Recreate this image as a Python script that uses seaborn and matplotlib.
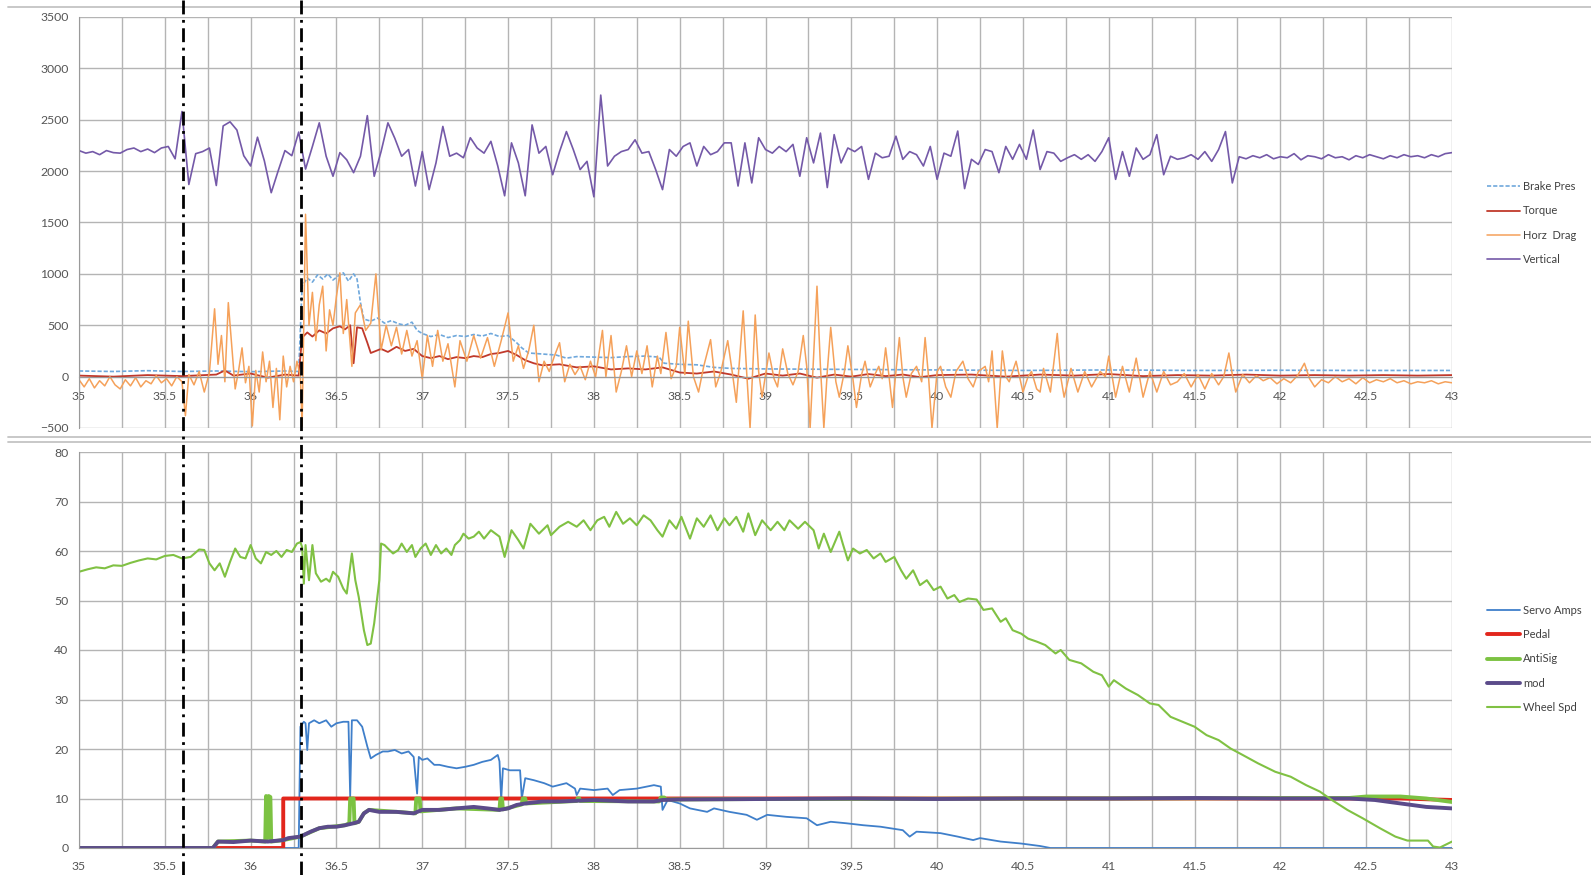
import numpy as np
import matplotlib
matplotlib.use("Agg")
import matplotlib.pyplot as plt
from matplotlib.lines import Line2D
from matplotlib.transforms import blended_transform_factory
from matplotlib.ticker import MultipleLocator, FuncFormatter
import seaborn as sns

# ---------------------------------------------------------------- data
# Upper chart: load channels against time (s)
vertical_load = [
    2200, 2175, 2190, 2160, 2200, 2180, 2175, 2210, 2225, 2190, 2215, 2180, 2225, 2240, 2120, 2580, 1870, 2170, 2190, 2225, 1860, 2440, 2480, 2400, 2150,
    2050, 2330, 2100, 1790, 2000, 2200, 2150, 2380, 2020, 2240, 2470, 2145, 1950, 2180, 2110, 1985, 2145, 2540, 1950, 2190, 2470, 2320, 2145, 2210, 1855,
    2190, 1820, 2080, 2435, 2145, 2175, 2130, 2325, 2225, 2175, 2290, 2050, 1760, 2275, 2080, 1760, 2450, 2175, 2240, 1965, 2190, 2385, 2210, 2015, 2095,
    1750, 2740, 2050, 2145, 2190, 2210, 2305, 2175, 2190, 2015, 1820, 2210, 2145, 2240, 2275, 2050, 2240, 2160, 2190, 2275, 2275, 1855, 2275, 1885, 2325,
    2210, 2175, 2240, 2190, 2260, 1950, 2325, 2080, 2370, 1840, 2355, 2080, 2225, 2190, 2240, 1920, 2175, 2130, 2145, 2340, 2115, 2190, 2160, 2050, 2240,
    1920, 2175, 2145, 2390, 1830, 2115, 2065, 2210, 2190, 1985, 2240, 2115, 2260, 2115, 2400, 2015, 2190, 2175, 2095, 2130, 2160, 2115, 2160, 2095, 2190,
    2325, 1920, 2190, 1950, 2225, 2115, 2160, 2355, 1965, 2145, 2115, 2130, 2160, 2115, 2190, 2095, 2210, 2385, 1885, 2140, 2120, 2150, 2130, 2160, 2120,
    2140, 2130, 2170, 2110, 2150, 2140, 2120, 2160, 2130, 2140, 2110, 2150, 2130, 2160, 2140, 2120, 2150, 2130, 2160, 2140, 2150, 2130, 2160, 2140, 2170,
    2180,
]
vertical_t = np.linspace(35.0, 43.0, len(vertical_load))

brake_t = [35.0, 35.2, 35.4, 35.6, 35.8, 36.0, 36.2, 36.28, 36.30, 36.33, 36.36, 36.39, 36.42, 36.45,
           36.48, 36.51, 36.54, 36.57, 36.60, 36.62, 36.64, 36.66, 36.70, 36.74, 36.78, 36.82, 36.86,
           36.90, 36.94, 36.97, 37.00, 37.05, 37.10, 37.15, 37.20, 37.25, 37.30, 37.35, 37.40, 37.45,
           37.50, 37.55, 37.58, 37.62, 37.70, 37.78, 37.84, 37.90, 38.00, 38.10, 38.20, 38.30, 38.38,
           38.41, 38.50, 38.60, 38.70, 38.80, 39.0, 39.5, 40.0, 40.5, 41.0, 41.5, 42.0, 42.5, 43.0]
brake_pres = [55, 50, 58, 50, 55, 48, 55, 50, 880, 960, 920, 990, 950, 1000,
              940, 980, 1010, 930, 1000, 950, 720, 560, 540, 570, 520, 545, 515,
              500, 530, 450, 420, 390, 410, 380, 400, 390, 410, 395, 420, 390,
              400, 330, 280, 230, 220, 210, 180, 195, 190, 185, 195, 200, 190,
              130, 120, 115, 90, 80, 75, 70, 65, 60, 65, 60, 62, 60, 60]

torque_t = [35.0, 35.2, 35.4, 35.6, 35.8, 35.85, 35.9, 36.0, 36.1, 36.2, 36.28, 36.30, 36.33, 36.36,
            36.40, 36.44, 36.48, 36.52, 36.55, 36.58, 36.60, 36.62, 36.65, 36.68, 36.70, 36.73, 36.76,
            36.80, 36.85, 36.90, 36.95, 37.00, 37.05, 37.10, 37.15, 37.20, 37.25, 37.30, 37.35, 37.40,
            37.45, 37.50, 37.55, 37.60, 37.65, 37.70, 37.80, 37.90, 38.00, 38.10, 38.20, 38.30, 38.40,
            38.50, 38.60, 38.70, 38.80, 38.90, 39.00, 39.1, 39.2, 39.3, 39.4, 39.5, 39.6, 39.7, 39.8,
            39.9, 40.0, 40.2, 40.4, 40.6, 40.8, 41.0, 41.2, 41.4, 41.6, 41.8, 42.0, 42.2, 42.4, 42.6,
            42.8, 43.0]
torque = [10, 0, 15, 5, 20, 60, 10, 30, -10, 20, 10, 380, 430, 390,
          450, 420, 470, 490, 460, 500, 130, 480, 470, 330, 230, 250, 270,
          240, 290, 250, 270, 200, 180, 200, 170, 190, 180, 200, 190, 220,
          230, 250, 210, 160, 130, 110, 120, 90, 100, 70, 80, 70, 90,
          40, 30, 50, 20, -20, 30, 10, 30, -10, 20, 0, 25, 5, 20,
          -5, 15, 20, 0, 20, 10, 25, 5, 15, 10, 20, 10, 15, 10, 15,
          10, 15]

drag_t = [35.00, 35.03, 35.06, 35.09, 35.12, 35.15, 35.18, 35.21, 35.24, 35.27, 35.30, 35.33, 35.36,
          35.39, 35.42, 35.45, 35.48, 35.51, 35.54, 35.57, 35.60, 35.62, 35.64, 35.67, 35.70, 35.73,
          35.76, 35.79, 35.81, 35.83, 35.85, 35.87, 35.89, 35.91, 35.93, 35.95, 35.97, 35.99, 36.01,
          36.03, 36.05, 36.07, 36.09, 36.11, 36.13, 36.15, 36.17, 36.19, 36.21, 36.23, 36.25, 36.27,
          36.29, 36.30, 36.32, 36.34, 36.36, 36.38, 36.40, 36.42, 36.44, 36.46, 36.48, 36.50, 36.52,
          36.54, 36.56, 36.59, 36.61, 36.64, 36.67, 36.70, 36.73, 36.76, 36.79, 36.82, 36.85, 36.88,
          36.91, 36.94, 36.97, 37.00, 37.03, 37.06, 37.09, 37.12, 37.15, 37.19, 37.22, 37.26, 37.30,
          37.34, 37.38, 37.42, 37.46, 37.50, 37.53, 37.56, 37.59, 37.62, 37.65, 37.68, 37.71, 37.74,
          37.77, 37.80, 37.83, 37.86, 37.89, 37.92, 37.95, 37.98, 38.01, 38.05, 38.07, 38.10, 38.13,
          38.16, 38.19, 38.22, 38.25, 38.28, 38.31, 38.34, 38.37, 38.39, 38.42, 38.45, 38.48, 38.50,
          38.53, 38.55, 38.58, 38.61, 38.64, 38.68, 38.71, 38.74, 38.78, 38.81, 38.83, 38.87, 38.89,
          38.91, 38.94, 38.96, 38.98, 39.02, 39.05, 39.07, 39.10, 39.13, 39.16, 39.19, 39.22, 39.24,
          39.26, 39.28, 39.30, 39.32, 39.34, 39.36, 39.38, 39.41, 39.43, 39.46, 39.48, 39.51, 39.53,
          39.56, 39.58, 39.61, 39.64, 39.66, 39.68, 39.70, 39.72, 39.74, 39.76, 39.78, 39.80, 39.82,
          39.85, 39.88, 39.91, 39.93, 39.95, 39.97, 40.00, 40.02, 40.05, 40.08, 40.11, 40.15, 40.18,
          40.21, 40.24, 40.28, 40.30, 40.32, 40.35, 40.38, 40.40, 40.42, 40.46, 40.50, 40.53, 40.55,
          40.58, 40.60, 40.62, 40.66, 40.70, 40.72, 40.74, 40.78, 40.82, 40.86, 40.90, 40.95, 40.98,
          41.00, 41.04, 41.08, 41.12, 41.16, 41.20, 41.24, 41.28, 41.32, 41.36, 41.40, 41.44, 41.48,
          41.52, 41.56, 41.60, 41.64, 41.67, 41.70, 41.72, 41.74, 41.78, 41.82, 41.86, 41.90, 41.94,
          41.98, 42.02, 42.06, 42.10, 42.14, 42.17, 42.20, 42.24, 42.28, 42.32, 42.36, 42.40, 42.44,
          42.48, 42.52, 42.56, 42.60, 42.64, 42.68, 42.72, 42.76, 42.80, 42.84, 42.88, 42.92, 42.96,
          43.00]
horz_drag = [-30, -100, -20, -110, -40, -90, 0, -80, -120, -30, -90, -10, -100,
             -40, -70, 10, -60, -20, -90, 0, -50, -380, 20, -80, 50, -150,
             40, 660, 120, 400, -50, 720, 300, -120, 60, 280, -60, 100, -480,
             60, -150, 240, -50, 150, -300, 80, -420, 200, -100, 100, -50, 150,
             0, -480, 1580, 500, 820, 350, 700, 880, 250, 650, 500, 780, 1010,
             420, 750, 100, 620, 700, 450, 520, 1000, 260, 500, 300, 480, 220,
             450, 200, 350, -20, 400, 100, 450, 150, 320, -100, 350, 150, 400,
             180, 380, 100, 350, 620, 150, 300, 80, 250, 500, -50, 150, 50,
             200, 330, -50, 120, 20, 100, -30, 150, 0, 450, 0, 400, -150,
             50, 300, 0, 250, 30, 300, -100, 200, 30, 430, -20, 100, 480,
             20, 540, 0, -150, 100, 360, -100, 50, 350, 0, -250, 640, 50,
             -500, 600, 50, -200, 230, -20, -100, 270, 30, -80, 50, 400, 100,
             -500, 200, 880, 100, -500, 50, 480, -50, -200, 50, 300, -30, -300,
             20, 150, -100, 30, 100, -20, 280, 0, -300, 50, 380, 0, -200,
             30, 100, -50, 380, 0, -500, 50, 100, -100, -200, 50, 150, -20,
             -100, 50, 100, -50, 250, -500, 250, 0, -50, 150, -150, 0, 50,
             -120, -150, 80, -150, 420, 0, -200, 80, -150, 50, -100, 50, 0,
             200, -200, 100, -150, 180, -200, 50, -150, 50, -80, -50, 30, -100,
             20, -120, 30, -80, 0, 230, 20, -150, 20, -60, 10, -40, -10,
             -70, -20, -60, 10, 130, -20, -100, -30, -60, 0, -50, -20, -70,
             -10, -60, -30, -50, -20, -60, -40, -70, -50, -60, -40, -70, -50,
             -60]

# Lower chart: controller channels against time (s)
servo_t = [35.0, 36.28, 36.29, 36.31, 36.32, 36.33, 36.34, 36.37, 36.40, 36.44, 36.47, 36.50, 36.54,
           36.57, 36.58, 36.59, 36.62, 36.65, 36.68, 36.70, 36.73, 36.77, 36.80, 36.84, 36.88, 36.92,
           36.95, 36.97, 36.98, 37.00, 37.03, 37.07, 37.10, 37.15, 37.20, 37.25, 37.30, 37.35, 37.40,
           37.44, 37.45, 37.46, 37.47, 37.51, 37.57, 37.58, 37.60, 37.65, 37.71, 37.76, 37.84, 37.89,
           37.90, 37.92, 38.00, 38.08, 38.11, 38.15, 38.25, 38.35, 38.39, 38.40, 38.43, 38.50, 38.56,
           38.66, 38.70, 38.79, 38.89, 38.95, 39.01, 39.12, 39.24, 39.30, 39.38, 39.47, 39.57, 39.67,
           39.80, 39.84, 39.88, 40.02, 40.12, 40.21, 40.25, 40.37, 40.49, 40.60, 40.66, 43.0]
servo_amps = [0, 0, 24.5, 25.5, 25.2, 19.8, 25.2, 25.8, 25.2, 25.8, 24.5, 25.2, 25.5,
              25.5, 10.4, 25.8, 25.8, 24.5, 20.5, 18.1, 18.8, 19.5, 19.5, 19.8, 19.1, 19.5,
              18.4, 11.0, 18.4, 17.8, 18.1, 16.8, 16.8, 16.4, 16.1, 16.4, 16.8, 17.4, 17.8,
              18.8, 17.5, 9.7, 16.1, 15.7, 15.7, 10.0, 14.1, 13.7, 13.1, 12.4, 13.1, 12.0,
              10.7, 12.0, 11.7, 12.0, 10.7, 11.7, 12.0, 12.7, 12.4, 7.7, 9.7, 9.0, 8.0,
              7.3, 8.0, 7.3, 6.7, 5.7, 6.7, 6.3, 6.0, 4.6, 5.3, 5.0, 4.6, 4.3,
              3.6, 2.3, 3.3, 3.0, 2.3, 1.6, 2.0, 1.3, 0.9, 0.4, 0.0, 0.0]

pedal_t = [35.0, 36.19, 36.19, 42.70, 43.0]
pedal = [0, 0, 10, 10, 9.7]

antisig_t = [35.0, 35.78, 35.81, 36.0, 36.085, 36.09, 36.10, 36.105, 36.115, 36.12, 36.19, 36.29,
             36.40, 36.55, 36.575, 36.58, 36.60, 36.605, 36.63, 36.66, 36.69, 36.85, 36.96, 36.965,
             36.985, 36.99, 37.20, 37.45, 37.455, 37.465, 37.47, 37.58, 37.585, 37.60, 37.605, 37.90,
             37.905, 37.915, 37.92, 38.38, 38.39, 38.41, 38.42, 39.0, 42.4, 42.5, 42.7, 42.85, 43.0]
antisig = [0, 0, 1.3, 1.5, 1.3, 10.5, 2.0, 10.5, 10.3, 1.3, 1.6, 2.3,
           4.0, 4.6, 5.0, 10.0, 10.0, 5.0, 5.3, 7.0, 7.7, 7.3, 7.0, 10.0,
           10.0, 7.4, 8.0, 7.7, 10.0, 10.0, 7.8, 8.8, 10.0, 10.0, 9.0, 9.5,
           10.0, 10.0, 9.5, 9.4, 10.2, 10.2, 9.8, 9.9, 10.1, 10.4, 10.4, 10.0, 9.3]

mod_t = [35.0, 35.78, 35.81, 35.9, 36.0, 36.1, 36.19, 36.22, 36.29, 36.35, 36.40, 36.45, 36.50,
         36.55, 36.60, 36.63, 36.66, 36.69, 36.75, 36.85, 36.95, 37.00, 37.10, 37.20, 37.30, 37.38,
         37.45, 37.50, 37.55, 37.60, 37.70, 37.80, 38.00, 38.20, 38.35, 38.40, 38.50, 39.0, 39.5,
         40.0, 40.5, 41.0, 41.5, 42.0, 42.4, 42.55, 42.70, 42.85, 43.0]
mod = [0, 0, 1.3, 1.2, 1.5, 1.3, 1.6, 2.0, 2.3, 3.3, 4.0, 4.3, 4.3,
       4.6, 5.0, 5.3, 7.0, 7.7, 7.3, 7.3, 7.0, 7.7, 7.7, 8.0, 8.3, 8.0,
       7.7, 8.0, 8.7, 9.0, 9.4, 9.4, 9.7, 9.4, 9.4, 9.7, 9.8, 9.9, 10.0,
       9.9, 10.0, 10.0, 10.1, 10.0, 10.0, 9.7, 9.0, 8.3, 8.0]

wheel_t = [35.00, 35.05, 35.10, 35.15, 35.20, 35.25, 35.30, 35.35, 35.40, 35.45, 35.50, 35.55, 35.60,
           35.65, 35.70, 35.73, 35.76, 35.79, 35.82, 35.85, 35.88, 35.91, 35.94, 35.97, 36.00, 36.03,
           36.06, 36.09, 36.12, 36.15, 36.18, 36.21, 36.24, 36.27, 36.29, 36.30, 36.31, 36.32, 36.34,
           36.36, 36.38, 36.41, 36.44, 36.46, 36.48, 36.51, 36.54, 36.56, 36.59, 36.61, 36.63, 36.66,
           36.68, 36.70, 36.72, 36.75, 36.76, 36.78, 36.80, 36.83, 36.86, 36.88, 36.91, 36.94, 36.96,
           36.99, 37.02, 37.05, 37.08, 37.11, 37.14, 37.17, 37.19, 37.22, 37.24, 37.27, 37.30, 37.33,
           37.36, 37.40, 37.45, 37.48, 37.52, 37.56, 37.59, 37.63, 37.68, 37.73, 37.75, 37.80, 37.85,
           37.90, 37.94, 37.98, 38.02, 38.06, 38.09, 38.13, 38.17, 38.21, 38.25, 38.29, 38.33, 38.37,
           38.40, 38.44, 38.48, 38.51, 38.56, 38.60, 38.64, 38.68, 38.72, 38.76, 38.79, 38.83, 38.87,
           38.90, 38.94, 38.98, 39.03, 39.07, 39.11, 39.14, 39.19, 39.23, 39.28, 39.31, 39.34, 39.38,
           39.43, 39.45, 39.48, 39.51, 39.55, 39.59, 39.63, 39.67, 39.70, 39.75, 39.79, 39.82, 39.86,
           39.90, 39.94, 39.98, 40.02, 40.06, 40.10, 40.13, 40.18, 40.23, 40.27, 40.32, 40.37, 40.40,
           40.44, 40.49, 40.53, 40.58, 40.63, 40.69, 40.72, 40.77, 40.84, 40.91, 40.96, 41.00, 41.03,
           41.10, 41.17, 41.24, 41.29, 41.36, 41.43, 41.50, 41.57, 41.64, 41.71, 41.78, 41.87, 41.97,
           42.06, 42.15, 42.23, 42.30, 42.39, 42.48, 42.58, 42.67, 42.74, 42.86, 42.89, 42.93, 43.00]
wheel_spd = [55.8, 56.3, 56.7, 56.5, 57.1, 57.0, 57.6, 58.1, 58.5, 58.3, 59.0, 59.2, 58.5,
             58.8, 60.3, 60.2, 57.5, 56.1, 57.5, 54.8, 57.8, 60.5, 58.8, 58.5, 61.2, 58.5,
             57.5, 59.8, 59.2, 60.0, 58.8, 60.2, 59.8, 61.5, 61.8, 60.8, 53.4, 61.2, 54.1,
             61.2, 55.5, 53.8, 54.4, 53.8, 55.8, 54.8, 52.4, 51.4, 59.5, 54.1, 50.7, 44.0,
             41.0, 41.3, 45.4, 54.1, 61.5, 61.2, 60.5, 59.5, 60.2, 61.5, 59.8, 61.2, 58.8,
             60.5, 61.5, 59.2, 61.2, 59.5, 60.5, 59.2, 61.2, 62.2, 63.5, 62.5, 62.9, 63.9,
             62.5, 64.2, 62.9, 58.8, 64.2, 62.2, 60.5, 65.5, 63.5, 65.2, 63.2, 64.9, 65.9,
             64.9, 66.2, 64.2, 66.2, 66.9, 64.9, 67.9, 65.5, 66.6, 65.2, 67.2, 66.2, 64.2,
             62.9, 66.2, 64.5, 66.9, 62.5, 66.6, 64.9, 67.2, 64.2, 66.6, 65.2, 66.9, 63.9,
             67.6, 63.2, 66.2, 64.2, 65.9, 64.2, 66.2, 64.5, 65.9, 64.2, 60.5, 63.5, 59.8,
             63.9, 61.5, 58.1, 60.5, 59.5, 60.2, 58.5, 59.5, 57.8, 58.8, 56.1, 54.4, 56.1,
             53.1, 54.1, 52.1, 52.8, 50.4, 51.1, 49.7, 50.4, 50.2, 48.1, 48.4, 45.7, 46.4,
             44.0, 43.3, 42.3, 41.7, 41.0, 39.3, 40.0, 38.0, 37.3, 35.6, 34.9, 32.6, 33.9,
             32.2, 30.9, 29.2, 28.9, 26.5, 25.5, 24.5, 22.8, 21.8, 20.1, 18.8, 17.1, 15.4,
             14.4, 12.7, 11.4, 9.7, 7.7, 6.0, 4.0, 2.3, 1.5, 1.5, 0.3, 0.1, 1.3]

# Event markers (s)
event_times = [35.605, 36.295]

# Axis ticks
top_yticks = list(range(-500, 3501, 500))
bot_yticks = list(range(0, 81, 10))
x_ticks = [35 + 0.5 * i for i in range(17)]

# ---------------------------------------------------------------- style
sns.set_style("white")
plt.rcParams['font.family'] = ['Lato', 'DejaVu Sans']

W, H = 1591, 875
fig = plt.figure(figsize=(W / 100, H / 100), dpi=100)
fig.patch.set_facecolor('white')


def axes_from_px(left, top, right, bottom):
    return fig.add_axes([left / W, 1 - bottom / H, (right - left) / W, (bottom - top) / H])


ax_top = axes_from_px(79, 17, 1452, 428)
ax_bot = axes_from_px(79, 452, 1452, 848)

GRID = '#b4b4b4'
TXT = '#555555'

line_kw = dict(estimator=None, sort=False)

# upper chart series
sns.lineplot(x=brake_t, y=brake_pres, ax=ax_top, color='#6fa8dc', lw=1.2,
             linestyle=(0, (2.5, 1.2)), label='Brake Pres', **line_kw)
sns.lineplot(x=torque_t, y=torque, ax=ax_top, color='#c0392b', lw=1.3,
             label='Torque', **line_kw)
sns.lineplot(x=drag_t, y=horz_drag, ax=ax_top, color='#f5a15a', lw=1.1,
             label='Horz  Drag', **line_kw)
sns.lineplot(x=vertical_t, y=vertical_load, ax=ax_top, color='#7459a8', lw=1.2,
             label='Vertical', **line_kw)

# lower chart series
sns.lineplot(x=servo_t, y=servo_amps, ax=ax_bot, color='#3f7fca', lw=1.3,
             label='Servo Amps', **line_kw)
sns.lineplot(x=pedal_t, y=pedal, ax=ax_bot, color='#e2261c', lw=2.8,
             label='Pedal', **line_kw)
sns.lineplot(x=antisig_t, y=antisig, ax=ax_bot, color='#7cc242', lw=2.8,
             label='AntiSig', **line_kw)
sns.lineplot(x=mod_t, y=mod, ax=ax_bot, color='#5b4b8a', lw=2.8,
             label='mod', **line_kw)
sns.lineplot(x=wheel_t, y=wheel_spd, ax=ax_bot, color='#80c143', lw=1.5,
             label='Wheel Spd', **line_kw)

fmt = FuncFormatter(lambda v, _: f"{v:g}")
for ax, yt in ((ax_top, top_yticks), (ax_bot, bot_yticks)):
    ax.set_xlim(35, 43)
    ax.set_ylim(yt[0], yt[-1])
    ax.set_yticks(yt)
    ax.set_xticks(x_ticks)
    ax.xaxis.set_minor_locator(MultipleLocator(0.25))
    ax.xaxis.set_major_formatter(fmt)
    ax.grid(which='both', axis='x', color=GRID, lw=1.0)
    ax.grid(which='major', axis='y', color=GRID, lw=1.0)
    ax.set_axisbelow(True)
    for s in ('top', 'right'):
        ax.spines[s].set_visible(False)
    ax.spines['left'].set_color('#9a9a9a')
    ax.spines['bottom'].set_color('#9a9a9a')
    ax.tick_params(axis='both', which='both', colors='#9a9a9a', labelcolor=TXT,
                   labelsize=8.8, length=4, width=1)
    ax.tick_params(axis='x', which='minor', length=4)
    ax.set_xlabel('')
    ax.set_ylabel('')
    ax.set_facecolor('white')

ax_top.spines['bottom'].set_position(('data', 0))
ax_top.tick_params(axis='x', pad=6)
ax_bot.tick_params(axis='x', pad=5)

# legends to the right of each chart
for ax, cy in ((ax_top, 223), (ax_bot, 659)):
    h, l = ax.get_legend_handles_labels()
    leg = ax.legend(h, l, loc='center left', bbox_to_anchor=(1487 / W, 1 - cy / H),
                    bbox_transform=fig.transFigure, frameon=False, fontsize=8,
                    handlelength=3.0, handletextpad=0.25, labelspacing=1.19,
                    borderaxespad=0, borderpad=0)
    for t in leg.get_texts():
        t.set_color('#404040')

# event markers spanning both charts
trans = blended_transform_factory(ax_top.transData, fig.transFigure)
for xv in event_times:
    fig.add_artist(Line2D([xv, xv], [0, 1], transform=trans, color='black', lw=2.0,
                          linestyle=(0, (5, 2, 1, 2)), zorder=10))

# chart frame lines
for yy in (7, 437, 442):
    fig.add_artist(Line2D([8 / W, 1], [1 - yy / H, 1 - yy / H], transform=fig.transFigure,
                          color='#c4c4c4', lw=1.3))

fig.savefig('out.png', dpi=100, facecolor='white')
